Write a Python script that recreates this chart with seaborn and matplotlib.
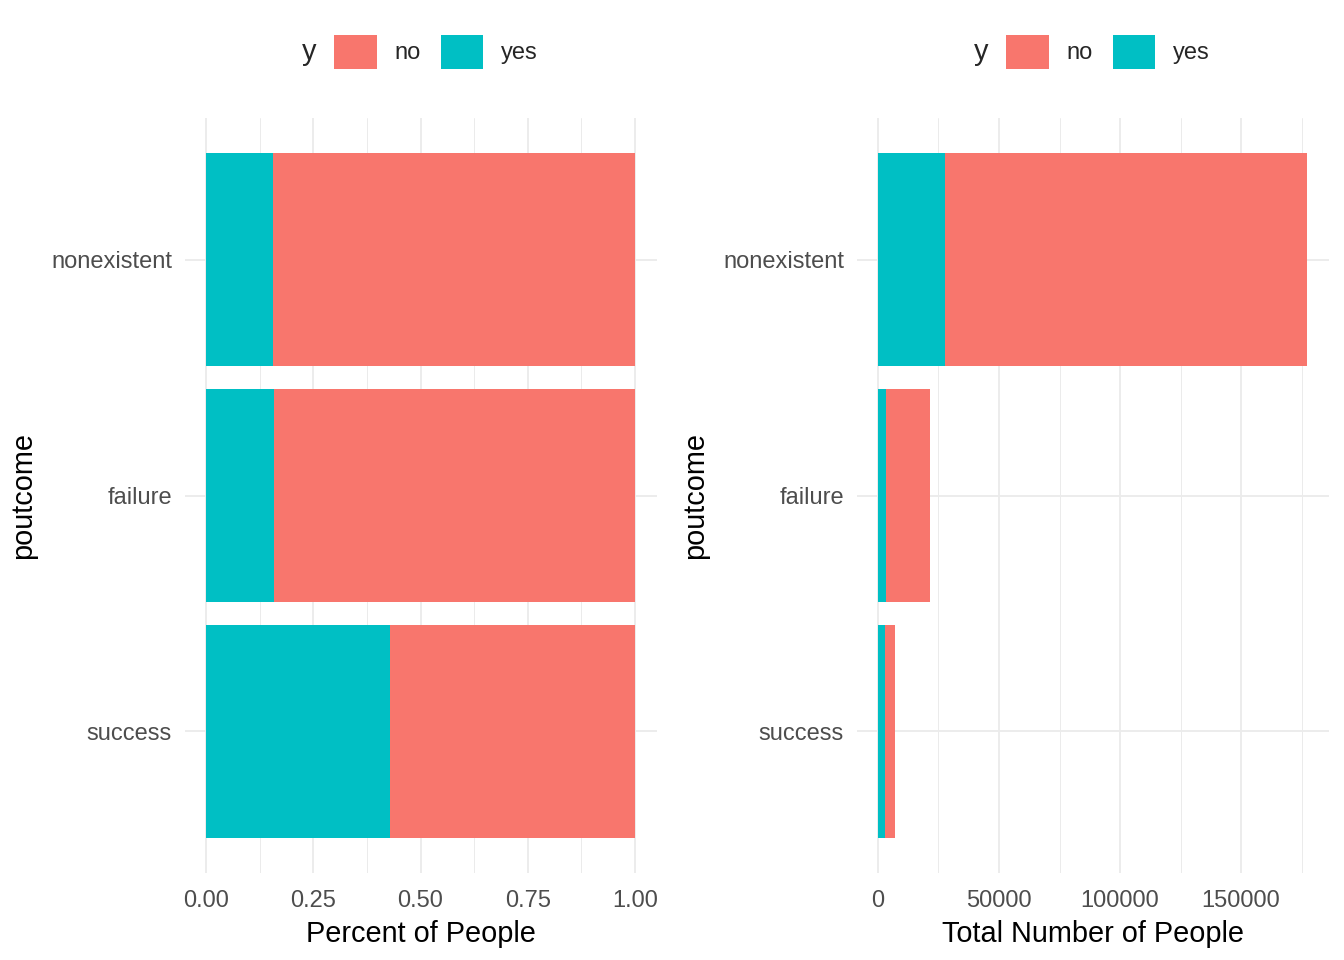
import matplotlib
matplotlib.use("Agg")
import matplotlib.pyplot as plt
from matplotlib.patches import Patch
import seaborn as sns
import pandas as pd
import numpy as np

# --- DATA ---
OUTCOMES = ["nonexistent", "failure", "success"]
COUNT_NO = [149600, 18100, 4000]
COUNT_YES = [27700, 3400, 3000]
PCT_TICKS = [0.0, 0.25, 0.5, 0.75, 1.0]
PCT_LABELS = ["0.00", "0.25", "0.50", "0.75", "1.00"]
NUM_TICKS = [0, 50000, 100000, 150000]
NUM_LABELS = ["0", "50000", "100000", "150000"]

RED = "#F8766D"
TEAL = "#00BFC4"
GRID = "#EBEBEB"

sns.set_theme(style="white")
plt.rcParams["font.family"] = ["Liberation Sans", "DejaVu Sans"]

df = pd.DataFrame({"poutcome": OUTCOMES, "no": COUNT_NO, "yes": COUNT_YES})
df["total"] = df["no"] + df["yes"]
df["pct_yes"] = df["yes"] / df["total"]
df["pct_total"] = df["total"] / df["total"]

fig = plt.figure(figsize=(13.44, 9.6), dpi=100)
ax1 = fig.add_axes([0.1373, 0.0906, 0.3512, 0.7865])
ax2 = fig.add_axes([0.6373, 0.0906, 0.3512, 0.7865])


def draw_panel(ax, total_col, yes_col, ticks, labels, xmax, xlabel):
    # stacked look: full bar in red, "yes" part drawn over it from zero
    sns.barplot(data=df, x=total_col, y="poutcome", order=OUTCOMES, color=RED,
                width=0.9, saturation=1, linewidth=0, ax=ax, zorder=2)
    sns.barplot(data=df, x=yes_col, y="poutcome", order=OUTCOMES, color=TEAL,
                width=0.9, saturation=1, linewidth=0, ax=ax, zorder=3)
    pad = xmax * 0.05
    ax.set_xlim(-pad, xmax + pad)
    ax.set_ylim(2.6, -0.6)
    ax.set_xticks(ticks)
    ax.set_xticklabels(labels)
    minor = [(a + b) / 2 for a, b in zip(ticks[:-1], ticks[1:])]
    step = ticks[1] - ticks[0]
    if ticks[-1] + step / 2 <= xmax + pad:
        minor.append(ticks[-1] + step / 2)
    ax.set_xticks(minor, minor=True)
    ax.grid(True, which="major", axis="both", color=GRID, linewidth=1.3, zorder=0)
    ax.grid(True, which="minor", axis="x", color=GRID, linewidth=0.7, zorder=0)
    ax.set_axisbelow(True)
    for s in ax.spines.values():
        s.set_visible(False)
    ax.tick_params(axis="both", which="both", length=0, labelsize=17,
                   labelcolor="#4D4D4D")
    ax.tick_params(axis="x", pad=12)
    ax.tick_params(axis="y", pad=9)
    ax.set_xlabel(xlabel, fontsize=20.8, color="black", labelpad=6)
    ax.set_ylabel("poutcome", fontsize=20.8, color="black", labelpad=10)

    handles = [Patch(facecolor=RED, edgecolor="none"),
               Patch(facecolor=TEAL, edgecolor="none")]
    leg = ax.legend(handles, ["no", "yes"], loc="lower center",
                    bbox_to_anchor=(0.533, 1.053), ncol=2, frameon=False,
                    fontsize=17, handlelength=1.8, handleheight=1.8,
                    handletextpad=0.75, columnspacing=0.85, borderaxespad=0)
    return leg


leg1 = draw_panel(ax1, "pct_total", "pct_yes", PCT_TICKS, PCT_LABELS, 1.0,
                  "Percent of People")
leg2 = draw_panel(ax2, "total", "yes", NUM_TICKS, NUM_LABELS,
                  float(df["total"].max()), "Total Number of People")

# legend title "y" sits left of the keys, like ggplot's top legend
fig.canvas.draw()
inv = fig.transFigure.inverted()
for leg in (leg1, leg2):
    bb = leg.get_window_extent()
    x0, y0 = inv.transform((bb.x0 - 9, (bb.y0 + bb.y1) / 2))
    fig.text(x0, y0, "y", fontsize=20.8, ha="right", va="center")

fig.savefig("out.png", dpi=100)
